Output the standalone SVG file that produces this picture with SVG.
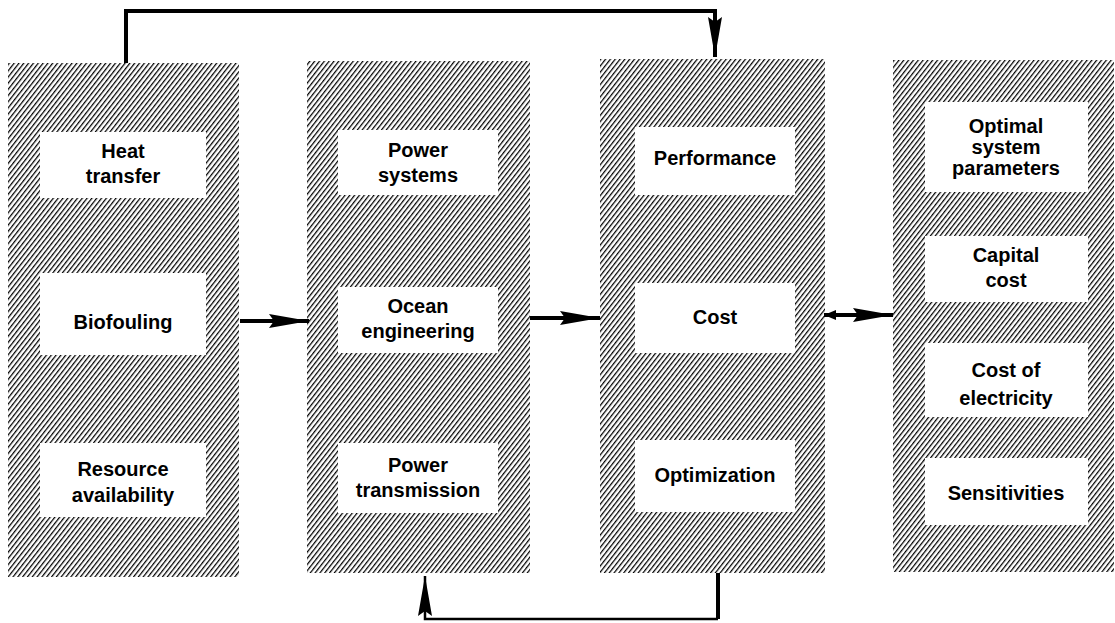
<svg xmlns="http://www.w3.org/2000/svg" width="1115" height="623" viewBox="0 0 1115 623">
<style>
.hatch{fill:url(#h);}
.box{fill:#fff;}
text{font-family:"Liberation Sans",Arial,sans-serif;font-weight:bold;font-size:20px;fill:#000;text-anchor:middle;}
.ln{fill:none;stroke:#000;stroke-linejoin:miter;}
</style>
<defs>
<pattern id="h" patternUnits="userSpaceOnUse" width="3.8" height="10" patternTransform="rotate(38)">
<rect x="0" y="0" width="1.25" height="10" fill="#000"/>
</pattern>
<marker id="ah" viewBox="0 0 40 14" refX="40" refY="7" markerWidth="40" markerHeight="14" markerUnits="userSpaceOnUse" orient="auto">
<path d="M0,0 L40,7 L0,14 L5,7 Z" fill="#000"/>
</marker>
<marker id="ahs" viewBox="0 0 12 10" refX="0" refY="5" markerWidth="12" markerHeight="10" markerUnits="userSpaceOnUse" orient="auto">
<path d="M0,5 L12,0 L12,10 Z" fill="#000"/>
</marker>
</defs>
<rect width="1115" height="623" fill="#fff"/>
<g id="connectors">
<polyline class="ln" stroke-width="4" points="126,63 126,11 715,11 715,57" marker-end="url(#ah)"/>
<polyline class="ln" stroke-width="4" points="718,573 718,619"/>
<polyline class="ln" stroke-width="2.5" points="718,619 425,619 425,576" marker-end="url(#ah)"/>
<line class="ln" stroke-width="4" x1="240" y1="321" x2="309" y2="321" marker-end="url(#ah)"/>
<line class="ln" stroke-width="4" x1="530" y1="318" x2="600" y2="318" marker-end="url(#ah)"/>
<line class="ln" stroke-width="4" x1="824" y1="315" x2="893" y2="315" marker-end="url(#ah)" marker-start="url(#ahs)"/>
</g>
<g id="col1">
<rect class="hatch" x="8" y="63" width="231" height="514"/>
<g id="heat-transfer"><rect class="box" x="40" y="132" width="166" height="66"/><text x="123" y="158">Heat</text><text x="123" y="183">transfer</text></g>
<g id="biofouling"><rect class="box" x="40" y="273" width="166" height="82"/><text x="123" y="329">Biofouling</text></g>
<g id="resource-availability"><rect class="box" x="40" y="443" width="166" height="74"/><text x="123" y="476">Resource</text><text x="123" y="502">availability</text></g>
</g>
<g id="col2">
<rect class="hatch" x="307" y="61" width="223" height="512"/>
<g id="power-systems"><rect class="box" x="338" y="130" width="160" height="65"/><text x="418" y="157">Power</text><text x="418" y="182">systems</text></g>
<g id="ocean-engineering"><rect class="box" x="338" y="287" width="160" height="66"/><text x="418" y="313">Ocean</text><text x="418" y="338">engineering</text></g>
<g id="power-transmission"><rect class="box" x="338" y="443" width="160" height="70"/><text x="418" y="472">Power</text><text x="418" y="497">transmission</text></g>
</g>
<g id="col3">
<rect class="hatch" x="600" y="59" width="225" height="514"/>
<g id="performance"><rect class="box" x="635" y="127" width="160" height="68"/><text x="715" y="165">Performance</text></g>
<g id="cost"><rect class="box" x="635" y="283" width="160" height="70"/><text x="715" y="324">Cost</text></g>
<g id="optimization"><rect class="box" x="635" y="440" width="160" height="72"/><text x="715" y="482">Optimization</text></g>
</g>
<g id="col4">
<rect class="hatch" x="893" y="60" width="221" height="512"/>
<g id="optimal-system-parameters"><rect class="box" x="925" y="102" width="163" height="90"/><text x="1006" y="133">Optimal</text><text x="1006" y="154">system</text><text x="1006" y="175">parameters</text></g>
<g id="capital-cost"><rect class="box" x="925" y="236" width="163" height="66"/><text x="1006" y="262">Capital</text><text x="1006" y="287">cost</text></g>
<g id="cost-of-electricity"><rect class="box" x="925" y="343" width="163" height="74"/><text x="1006" y="377">Cost of</text><text x="1006" y="405">electricity</text></g>
<g id="sensitivities"><rect class="box" x="925" y="458" width="163" height="67"/><text x="1006" y="500">Sensitivities</text></g>
</g>
</svg>
